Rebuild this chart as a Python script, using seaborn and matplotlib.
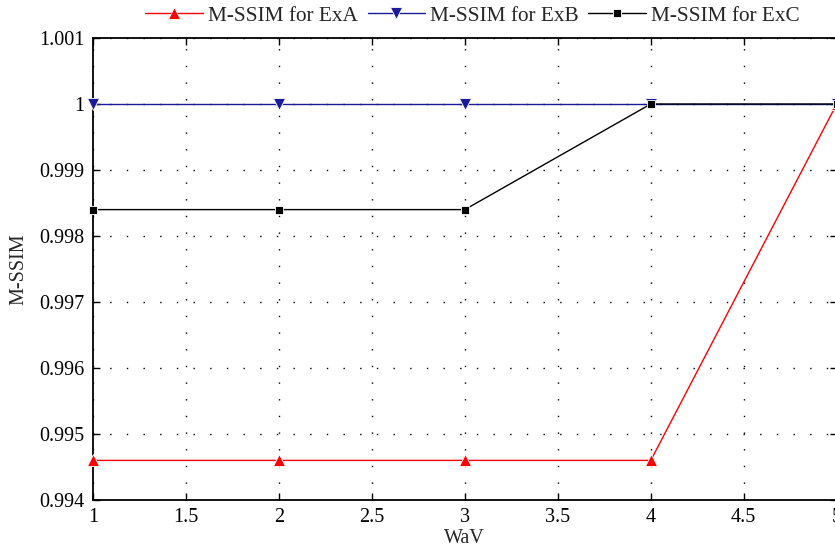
import matplotlib
matplotlib.use("Agg")
import matplotlib.pyplot as plt
from matplotlib.ticker import MultipleLocator, FuncFormatter
import seaborn as sns
import pandas as pd

# WaV levels and M-SSIM scores per experiment
wav = [1, 2, 3, 4, 5]
ssim_exa = [0.9946, 0.9946, 0.9946, 0.9946, 1.0]
ssim_exb = [1.0, 1.0, 1.0, 1.0, 1.0]
ssim_exc = [0.9984, 0.9984, 0.9984, 1.0, 1.0]
series_names = ["M-SSIM for ExA", "M-SSIM for ExB", "M-SSIM for ExC"]

df = pd.concat([
    pd.DataFrame({"WaV": wav, "M-SSIM": vals, "series": name})
    for name, vals in zip(series_names, [ssim_exa, ssim_exb, ssim_exc])
], ignore_index=True)

sns.set_theme(style="white")
plt.rcParams["font.family"] = ["Liberation Serif", "DejaVu Serif"]

fig = plt.figure(figsize=(8.35, 5.5), dpi=100)
ax = fig.add_axes([93 / 835, 50 / 550, (836.7 - 93) / 835, (500 - 38) / 550])

palette = {series_names[0]: "#ff0000", series_names[1]: "#1a1a9c", series_names[2]: "#000000"}
markers = {series_names[0]: "^", series_names[1]: "v", series_names[2]: "s"}
msizes = {series_names[0]: 9, series_names[1]: 9, series_names[2]: 6}

sns.lineplot(data=df, x="WaV", y="M-SSIM", hue="series", style="series",
             palette=palette, markers=markers, dashes=False, linewidth=1.0,
             markeredgewidth=0.6, ax=ax, legend=True)

for line, name in zip(ax.lines, series_names):
    line.set_markersize(msizes[name])
    line.set_clip_on(False)
    line.set_zorder(3)

ax.set_xlim(1, 5)
ax.set_ylim(0.994, 1.001)
ax.xaxis.set_major_locator(MultipleLocator(0.5))
ax.yaxis.set_major_locator(MultipleLocator(0.001))

def fmt_x(v, pos):
    return f"{round(v, 2):g}"

def fmt_y(v, pos):
    return f"{round(v, 4):.3f}".rstrip("0").rstrip(".")

ax.xaxis.set_major_formatter(FuncFormatter(fmt_x))
ax.yaxis.set_major_formatter(FuncFormatter(fmt_y))

ax.grid(True, color="black", linestyle=(0, (1, 11)), linewidth=1.0)
ax.tick_params(direction="in", length=5, width=1.0, top=True, right=True,
               bottom=True, left=True, labelsize=14.5, colors="black", pad=6)
for s in ax.spines.values():
    s.set_color("black")
    s.set_linewidth(1.3)

ax.set_xlabel("WaV", fontsize=14.5, labelpad=1)
ax.set_ylabel("M-SSIM", fontsize=14.5, labelpad=8)

handles, labels = ax.get_legend_handles_labels()
ax.get_legend().remove()
for h, name in zip(handles, labels):
    h.set_markersize(msizes.get(name, 8))
fig.legend(handles, labels, loc="center", bbox_to_anchor=(0.566, 0.971), ncol=3,
           frameon=False, fontsize=15.3, handlelength=2.7, handletextpad=0.25,
           columnspacing=0.45, borderaxespad=0)

fig.savefig("out.png", dpi=100)
